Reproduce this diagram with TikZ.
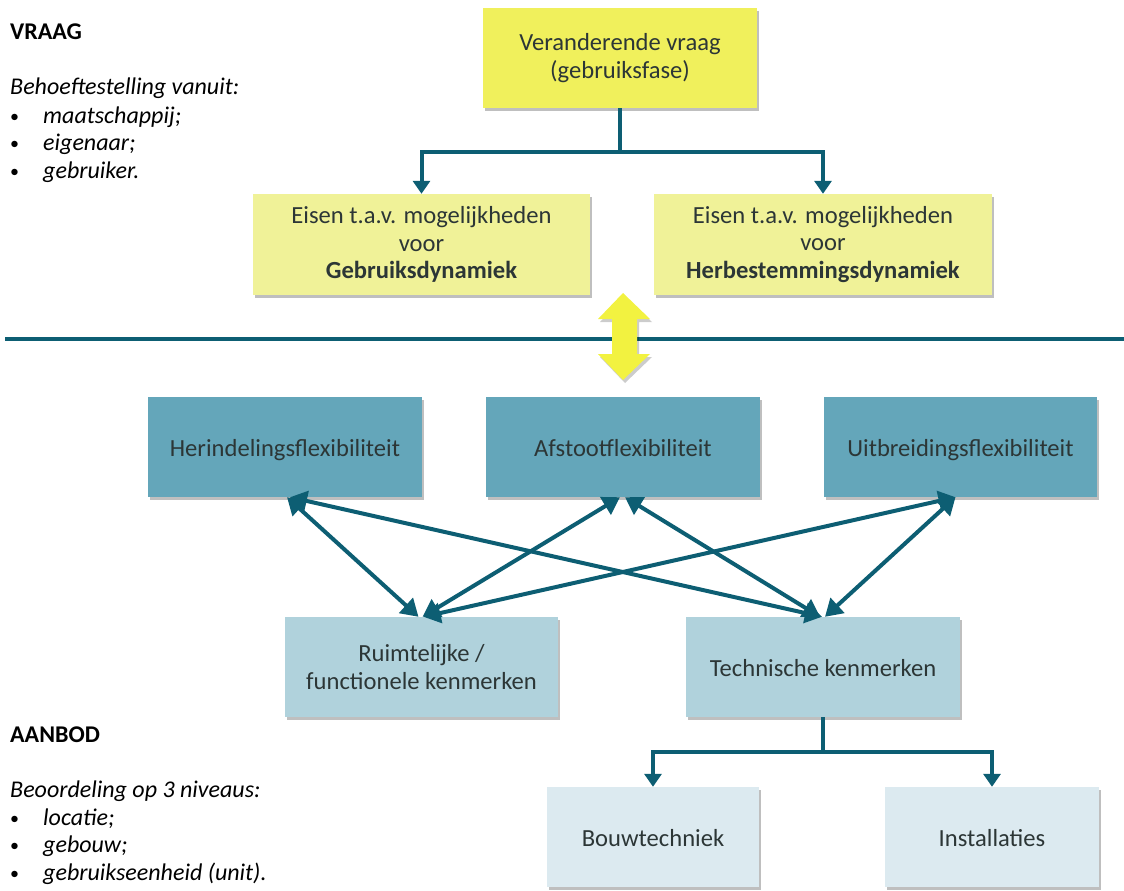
\documentclass[tikz,border=0pt]{standalone}
\usepackage{fontspec}
\setmainfont{Carlito}
\usetikzlibrary{arrows.meta,shadows,calc}
\definecolor{ylwA}{RGB}{240,240,92}
\definecolor{ylwB}{RGB}{240,242,152}
\definecolor{ylwArrow}{RGB}{242,242,64}
\definecolor{tealA}{RGB}{100,166,186}
\definecolor{tealB}{RGB}{176,210,220}
\definecolor{tealC}{RGB}{220,234,240}
\definecolor{lineC}{RGB}{13,94,115}
\definecolor{txt}{RGB}{44,54,54}
\begin{document}
\begin{tikzpicture}[x=1pt,y=-1pt,
  shadowed/.style={drop shadow={shadow xshift=2pt,shadow yshift=-3pt,opacity=0.25,fill=black}},
  box/.style={draw=none,minimum width=274pt,minimum height=100pt,inner sep=0pt,align=center,
    text=txt,font=\fontsize{24.6}{27.7}\selectfont,shadowed},
  one/.style={text height=18pt,text depth=0pt},
  conn/.style={draw=lineC,line width=4pt},
  arr/.style={conn,-{Triangle[width=17pt,length=13pt]}},
  darr/.style={conn,{Triangle[width=20pt,length=17pt]}-{Triangle[width=20pt,length=17pt]}},
  side/.style={anchor=base west,inner sep=0pt,text=black,font=\fontsize{24}{27.5}\selectfont},
  bul/.style={anchor=base west,inner sep=0pt,text=black,font=\fontsize{18}{27.5}\selectfont},
  sidebold/.style={side,font=\fontsize{24}{27.5}\selectfont\bfseries},
  sideit/.style={side,font=\fontsize{24}{27.5}\selectfont\itshape},
]
\useasboundingbox (0,0) rectangle (1124,891);

% VRAAG block
\node[box,fill=ylwA] (top) at (620,58) {Veranderende vraag\\(gebruiksfase)};
\node[box,fill=ylwB,minimum width=337pt,minimum height=101pt] (eisL) at (421.5,244.5)
  {Eisen t.a.v. mogelijkheden\\voor\\\textbf{Gebruiksdynamiek}};
\node[box,fill=ylwB,minimum width=338pt,minimum height=101pt] (eisR) at (823,244.5)
  {Eisen t.a.v. mogelijkheden\\voor\\\textbf{Herbestemmingsdynamiek}};

\coordinate (j1) at (620,152);
\draw[conn] (top.south) -- (j1);
\draw[arr] (j1) -| (eisL.north);
\draw[arr] (j1) -| (eisR.north);

% divider
\coordinate (divL) at (5,339);
\coordinate (divR) at (1124,339);
\draw[conn] (divL) -- (divR);

% yellow double arrow
\fill[ylwArrow,drop shadow={shadow xshift=2pt,shadow yshift=-3pt,opacity=0.2,fill=black}]
  (623,293) -- (650,319) -- (637,319) -- (637,354) -- (650,354) -- (623,380)
  -- (598,354) -- (612,354) -- (612,319) -- (598,319) -- cycle;

% flexibility
\node[box,one,fill=tealA] (herin) at (285,447) {Herindelingsflexibiliteit};
\node[box,one,fill=tealA] (afst) at (623,447) {Afstootflexibiliteit};
\node[box,one,fill=tealA,minimum width=273pt] (uitb) at (960.5,447) {Uitbreidingsflexibiliteit};

% kenmerken
\node[box,fill=tealB,minimum width=273pt] (ruim) at (421.5,667) {Ruimtelijke /\\functionele kenmerken};
\node[box,one,fill=tealB] (tech) at (823,667) {Technische kenmerken};

% crossing arrows
\draw[darr] ([xshift=2pt]herin.south) -- ([xshift=-3pt]ruim.north);
\draw[darr] ([xshift=5pt]herin.south) -- ([xshift=-1pt]tech.north);
\draw[darr] ([xshift=-3pt]afst.south) -- ([xshift=1pt]ruim.north);
\draw[darr] ([xshift=2pt]afst.south) -- ([xshift=-3pt]tech.north);
\draw[darr] ([xshift=-5pt]uitb.south) -- ([xshift=2pt]ruim.north);
\draw[darr] ([xshift=-5pt]uitb.south) -- ([xshift=2pt]tech.north);

% bottom
\node[box,one,fill=tealC,minimum width=212pt] (bouw) at (653,837) {Bouwtechniek};
\node[box,one,fill=tealC,minimum width=214pt] (inst) at (992,837) {Installaties};
\coordinate (j2) at (823,752);
\draw[conn] (tech.south) -- (j2);
\draw[arr] (j2) -| (bouw.north);
\draw[arr] (j2) -| (inst.north);

% side texts
\node[sidebold] (vraag) at (10,40) {VRAAG};
\node[sideit] (vraagA) at (10,95) {Behoeftestelling vanuit:};
\node[bul] (vb1) at (10,122) {•};
\node[sideit] (vt1) at (43,123) {maatschappij;};
\node[bul] (vb2) at (10,149.5) {•};
\node[sideit] (vt2) at (43,150.5) {eigenaar;};
\node[bul] (vb3) at (10,177) {•};
\node[sideit] (vt3) at (43,178) {gebruiker.};

\node[sidebold] (aanbod) at (10,742) {AANBOD};
\node[sideit] (aanbodA) at (10,797) {Beoordeling op 3 niveaus:};
\node[bul] (ab1) at (10,824) {•};
\node[sideit] (at1) at (43,825) {locatie;};
\node[bul] (ab2) at (10,851.5) {•};
\node[sideit] (at2) at (43,852.5) {gebouw;};
\node[bul] (ab3) at (10,879) {•};
\node[sideit] (at3) at (43,880) {gebruikseenheid (unit).};
\end{tikzpicture}
\end{document}
